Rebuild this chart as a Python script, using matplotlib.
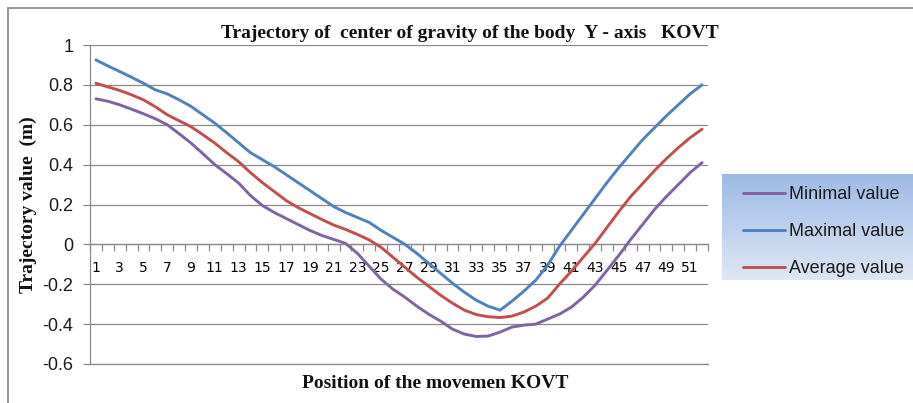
import matplotlib
matplotlib.use('Agg')
import matplotlib.pyplot as plt
import numpy as np
from matplotlib.patches import Rectangle

# ---------------- data ----------------
positions = list(range(1, 53))

minimal = [0.730, 0.718, 0.700, 0.678, 0.655, 0.630, 0.600, 0.555, 0.508, 0.455,
           0.400, 0.355, 0.308, 0.245, 0.195, 0.160, 0.130, 0.100, 0.070, 0.045,
           0.025, 0.005, -0.045, -0.110, -0.175, -0.225, -0.265, -0.310, -0.350, -0.385,
           -0.425, -0.450, -0.462, -0.460, -0.440, -0.415, -0.405, -0.400, -0.375, -0.350,
           -0.315, -0.265, -0.205, -0.130, -0.055, 0.025, 0.100, 0.175, 0.240, 0.300,
           0.360, 0.410]

maximal = [0.925, 0.895, 0.867, 0.838, 0.808, 0.775, 0.755, 0.725, 0.692, 0.650,
           0.608, 0.560, 0.510, 0.460, 0.425, 0.390, 0.350, 0.310, 0.270, 0.230,
           0.190, 0.160, 0.135, 0.110, 0.070, 0.035, 0.000, -0.045, -0.095, -0.145,
           -0.195, -0.240, -0.280, -0.310, -0.330, -0.285, -0.235, -0.180, -0.105, -0.010,
           0.070, 0.150, 0.230, 0.310, 0.385, 0.455, 0.525, 0.585, 0.645, 0.700,
           0.755, 0.800]

average = [0.808, 0.790, 0.772, 0.750, 0.725, 0.690, 0.650, 0.620, 0.590, 0.550,
           0.508, 0.460, 0.415, 0.360, 0.310, 0.265, 0.220, 0.185, 0.155, 0.125,
           0.097, 0.075, 0.050, 0.022, -0.015, -0.065, -0.115, -0.165, -0.210, -0.255,
           -0.295, -0.330, -0.352, -0.363, -0.367, -0.360, -0.340, -0.310, -0.270, -0.200,
           -0.135, -0.065, 0.005, 0.085, 0.165, 0.240, 0.305, 0.370, 0.430, 0.485,
           0.535, 0.578]

series_names = ['Minimal value', 'Maximal value', 'Average value']
y_ticks = [-0.6, -0.4, -0.2, 0.0, 0.2, 0.4, 0.6, 0.8, 1.0]
y_tick_labels = ['-0.6', '-0.4', '-0.2', '0', '0.2', '0.4', '0.6', '0.8', '1']
x_tick_positions = list(range(1, 52, 2))
x_tick_labels = [str(i) for i in x_tick_positions]

title_text = 'Trajectory of  center of gravity of the body  Y - axis   KOVT'
xlabel_text = 'Position of the movemen KOVT'
ylabel_text = 'Trajectory value  (m)'

# ---------------- style ----------------
colors = ['#8064A2', '#4F81BD', '#C0504D']
grid_color = '#8a8a8a'
W, H = 913, 403
fig = plt.figure(figsize=(W / 100, H / 100), dpi=100)

def fx(px):
    return px / W

def fy(py):
    return 1 - py / H

ax = fig.add_axes([fx(90), fy(364), fx(708) - fx(90), fy(45) - fy(364)])

handles = []
for vals, c, name in zip([minimal, maximal, average], colors, series_names):
    ln, = ax.plot(positions, vals, color=c, lw=2.1, label=name,
                  solid_capstyle='round', solid_joinstyle='round', zorder=3)
    handles.append(ln)

ax.set_xlim(0.5, 52.5)
ax.set_ylim(-0.6, 1.0)

tick_font = dict(family=['Liberation Sans', 'DejaVu Sans'], size=13)

ax.set_yticks(y_ticks)
ax.set_yticklabels(y_tick_labels, **tick_font, color='#1a1a1a')
ax.yaxis.grid(True, color=grid_color, lw=0.9, zorder=0)
ax.tick_params(axis='y', length=5, width=0.9, color=grid_color, direction='out', pad=7)

ax.set_xticks(x_tick_positions)
ax.set_xticklabels(x_tick_labels, family=['Liberation Sans', 'DejaVu Sans'], size=13.5,
                   color='#1a1a1a')
ax.set_xticks(np.arange(0.5, 53, 1.0), minor=True)
ax.tick_params(axis='x', which='major', length=0, pad=12)
ax.tick_params(axis='x', which='minor', length=5, width=0.9, color=grid_color, direction='out')

for s in ['top', 'right']:
    ax.spines[s].set_visible(False)
ax.spines['left'].set_color(grid_color)
ax.spines['left'].set_linewidth(0.9)
ax.spines['bottom'].set_position(('data', 0))
ax.spines['bottom'].set_color(grid_color)
ax.spines['bottom'].set_linewidth(0.9)
ax.axhline(-0.6, color=grid_color, lw=0.9, zorder=0, clip_on=False)

serif = dict(family=['Liberation Serif', 'DejaVu Serif'], weight='bold', color='#111111')
fig.text(fx(470), fy(33), title_text, ha='center', va='center', size=14, **serif)
fig.text(fx(435), fy(384), xlabel_text, ha='center', va='center', size=14, **serif)
fig.text(fx(28), fy(205), ylabel_text, ha='center', va='center', rotation=90, size=14, **serif)

# legend background gradient
lax = fig.add_axes([fx(722), fy(280), fx(913) - fx(722), fy(174) - fy(280)])
top_c = np.array([157, 187, 228]) / 255.0
bot_c = np.array([222, 231, 245]) / 255.0
t = np.linspace(0, 1, 100)[:, None]
grad = top_c[None, :] * (1 - t) + bot_c[None, :] * t
lax.imshow(grad[:, None, :], aspect='auto', extent=[0, 1, 0, 1])
lax.set_axis_off()

leg = fig.legend(handles=handles, labels=series_names, loc='upper left',
                 bbox_to_anchor=(fx(738), fy(181)), frameon=False,
                 prop=dict(family=['Liberation Sans', 'DejaVu Sans'], size=13),
                 handlelength=2.3, handletextpad=0.25, labelspacing=1.1,
                 borderaxespad=0, borderpad=0.3)
for txt in leg.get_texts():
    txt.set_color('#1a1a1a')

# chart area border
fig.patches.append(Rectangle((fx(8), -0.2), 1.2, fy(8) + 0.2, transform=fig.transFigure,
                             fill=False, edgecolor='#8c8c8c', lw=1.3))

fig.savefig('out.png', dpi=100)
